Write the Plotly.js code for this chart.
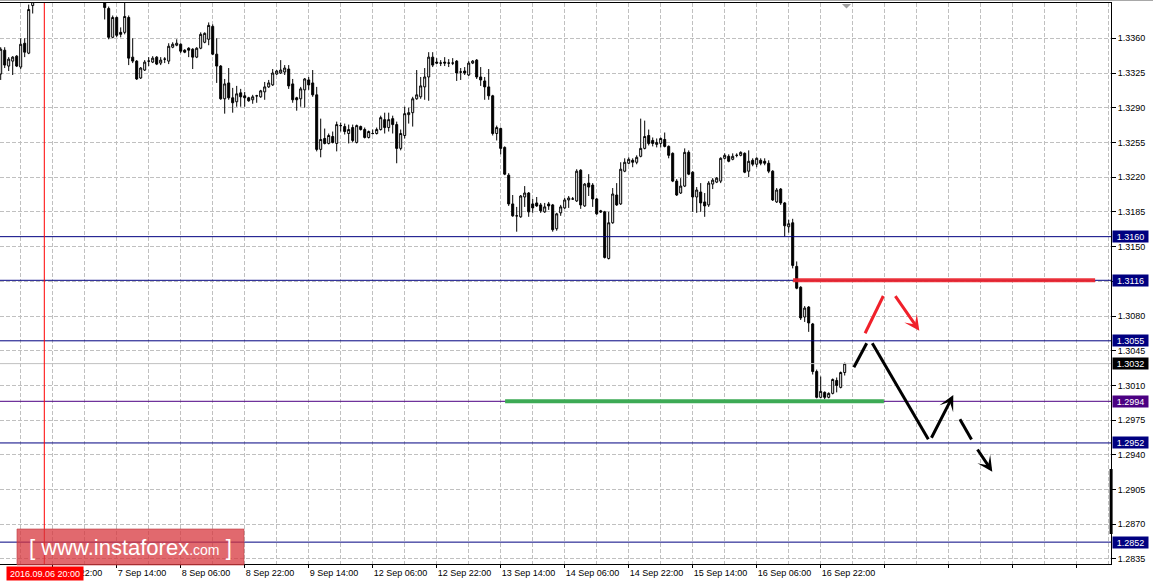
<!DOCTYPE html>
<html><head><meta charset="utf-8">
<script src="https://cdn.plot.ly/plotly-3.0.1.min.js"></script>
<style>html,body{margin:0;padding:0;background:#fff;overflow:hidden}#chart{width:1153px;height:581px;}</style>
</head><body><div id="chart"></div>
<script>
// GBP/USD H1 bars (null = bar above the visible price range)
const opens = [1.3324,1.3348,1.3332,1.3337,1.3342,1.3331,1.3355,1.3345,1.3393,
null,null,null,null,null,null,null,null,null,null,null,null,null,null,null,null,null,
1.3399,1.3390,1.3361,1.3381,1.3366,1.3366,1.3381,1.3341,1.3337,1.3320,1.3328,1.3337,1.3336,1.3341,1.3335,1.3339,1.3337,1.3351,1.3353,1.3354,
1.3348,1.3350,1.3349,1.3341,1.3350,1.3356,1.3359,1.3372,1.3344,1.3332,1.3299,1.3315,1.3300,1.3296,1.3305,1.3302,1.3300,1.3298,1.3302,1.3301,
1.3306,1.3311,1.3313,1.3324,1.3325,1.3326,1.3329,1.3314,1.3300,1.3299,1.3308,1.3318,1.3315,1.3303,1.3248,1.3259,1.3254,1.3261,1.3254,1.3272,
1.3271,1.3264,1.3270,1.3255,1.3271,1.3268,1.3260,1.3264,1.3264,1.3268,1.3278,1.3270,1.3279,1.3273,1.3249,1.3262,1.3283,1.3285,1.3299,1.3301,
1.3311,1.3321,1.3341,1.3336,1.3335,1.3336,1.3335,1.3335,1.3337,1.3326,1.3327,1.3323,1.3335,1.3338,1.3321,1.3317,1.3311,1.3302,1.3264,1.3269,
1.3250,1.3222,1.3193,1.3181,1.3180,1.3200,1.3204,1.3193,1.3194,1.3192,1.3185,1.3193,1.3192,1.3168,1.3184,1.3189,1.3197,1.3198,1.3196,1.3227,
1.3191,1.3214,1.3212,1.3198,1.3186,1.3185,1.3138,1.3174,1.3202,1.3193,1.3226,1.3234,1.3237,1.3235,1.3241,1.3249,1.3262,1.3257,1.3253,1.3254,
1.3258,1.3251,1.3244,1.3216,1.3204,1.3211,1.3245,1.3225,1.3200,1.3205,1.3195,1.3192,1.3213,1.3215,1.3216,1.3239,1.3241,1.3238,1.3242,1.3242,
1.3244,1.3226,1.3237,1.3233,1.3237,1.3236,1.3234,1.3226,1.3195,1.3208,1.3194,1.3170,1.3174,1.3130,1.3109,1.3079,1.3089,1.3072,1.3024,1.2998,
1.3003,1.2998,1.3002,1.3015,1.3008,1.3023];
const highs = [1.3351,1.3351,1.3341,1.3342,1.3343,1.3360,1.3360,1.3394,1.3402,
null,null,null,null,null,null,null,null,null,null,null,null,null,null,null,null,null,
1.3404,1.3392,1.3383,1.3382,1.3371,1.3396,1.3383,1.3360,1.3338,1.3331,1.3338,1.3341,1.3342,1.3342,1.3341,1.3341,1.3355,1.3356,1.3359,1.3355,
1.3349,1.3351,1.3350,1.3351,1.3366,1.3366,1.3376,1.3374,1.3360,1.3333,1.3319,1.3330,1.3310,1.3312,1.3309,1.3306,1.3301,1.3303,1.3303,1.3308,
1.3316,1.3318,1.3329,1.3328,1.3338,1.3333,1.3333,1.3319,1.3301,1.3311,1.3320,1.3321,1.3328,1.3311,1.3279,1.3269,1.3264,1.3266,1.3276,1.3275,
1.3274,1.3273,1.3273,1.3273,1.3272,1.3270,1.3267,1.3268,1.3270,1.3282,1.3285,1.3285,1.3282,1.3276,1.3268,1.3291,1.3290,1.3301,1.3328,1.3321,
1.3330,1.3346,1.3346,1.3340,1.3338,1.3341,1.3339,1.3340,1.3338,1.3330,1.3331,1.3337,1.3338,1.3339,1.3331,1.3321,1.3329,1.3303,1.3272,1.3270,
1.3251,1.3224,1.3202,1.3190,1.3202,1.3211,1.3205,1.3198,1.3200,1.3194,1.3194,1.3195,1.3193,1.3184,1.3192,1.3199,1.3201,1.3200,1.3228,1.3228,
1.3214,1.3223,1.3214,1.3199,1.3187,1.3186,1.3185,1.3209,1.3214,1.3235,1.3239,1.3240,1.3239,1.3242,1.3279,1.3277,1.3268,1.3260,1.3259,1.3260,
1.3265,1.3252,1.3245,1.3218,1.3219,1.3249,1.3247,1.3226,1.3210,1.3214,1.3204,1.3216,1.3219,1.3220,1.3240,1.3244,1.3243,1.3244,1.3244,1.3246,
1.3245,1.3247,1.3239,1.3240,1.3239,1.3239,1.3237,1.3227,1.3209,1.3209,1.3195,1.3177,1.3178,1.3135,1.3110,1.3090,1.3090,1.3073,1.3026,1.3019,
1.3004,1.3003,1.3017,1.3018,1.3024,1.3033];
const lows = [1.3318,1.3330,1.3327,1.3323,1.3331,1.3329,1.3341,1.3344,1.3385,
null,null,null,null,null,null,null,null,null,null,null,null,null,null,null,null,null,
1.3379,1.3359,1.3360,1.3361,1.3361,1.3364,1.3333,1.3335,1.3318,1.3319,1.3327,1.3332,1.3335,1.3333,1.3333,1.3335,1.3334,1.3350,1.3352,1.3345,
1.3345,1.3341,1.3329,1.3340,1.3349,1.3355,1.3353,1.3343,1.3315,1.3298,1.3284,1.3298,1.3285,1.3291,1.3291,1.3291,1.3296,1.3294,1.3295,1.3300,
1.3298,1.3310,1.3312,1.3323,1.3324,1.3323,1.3309,1.3295,1.3287,1.3291,1.3290,1.3308,1.3301,1.3246,1.3240,1.3253,1.3253,1.3254,1.3246,1.3266,
1.3263,1.3254,1.3255,1.3254,1.3267,1.3259,1.3259,1.3263,1.3263,1.3267,1.3264,1.3266,1.3264,1.3234,1.3247,1.3259,1.3274,1.3271,1.3298,1.3299,
1.3298,1.3297,1.3331,1.3334,1.3332,1.3332,1.3331,1.3333,1.3317,1.3318,1.3323,1.3322,1.3334,1.3319,1.3312,1.3298,1.3298,1.3262,1.3257,1.3243,
1.3222,1.3191,1.3180,1.3165,1.3179,1.3190,1.3180,1.3184,1.3190,1.3184,1.3184,1.3187,1.3165,1.3166,1.3181,1.3188,1.3189,1.3197,1.3195,1.3188,
1.3190,1.3201,1.3190,1.3182,1.3184,1.3138,1.3137,1.3173,1.3191,1.3192,1.3225,1.3233,1.3230,1.3233,1.3240,1.3248,1.3252,1.3251,1.3250,1.3250,
1.3250,1.3239,1.3215,1.3201,1.3203,1.3210,1.3222,1.3185,1.3184,1.3185,1.3180,1.3190,1.3208,1.3214,1.3214,1.3238,1.3235,1.3237,1.3240,1.3241,
1.3224,1.3220,1.3231,1.3230,1.3232,1.3232,1.3224,1.3196,1.3194,1.3192,1.3160,1.3164,1.3128,1.3107,1.3076,1.3074,1.3064,1.3021,1.2997,1.2997,
1.2996,1.2997,1.3001,1.3003,1.3007,1.3020];
const closes = [1.3349,1.3333,1.3339,1.3341,1.3332,1.3354,1.3346,1.3389,1.3397,
null,null,null,null,null,null,null,null,null,null,null,null,null,null,null,null,null,
1.3391,1.3361,1.3381,1.3363,1.3364,1.3382,1.3340,1.3337,1.3319,1.3330,1.3336,1.3337,1.3340,1.3334,1.3338,1.3339,1.3352,1.3354,1.3355,1.3347,
1.3346,1.3348,1.3341,1.3350,1.3364,1.3365,1.3373,1.3344,1.3332,1.3299,1.3314,1.3300,1.3295,1.3304,1.3301,1.3300,1.3297,1.3301,1.3302,1.3307,
1.3311,1.3315,1.3325,1.3327,1.3328,1.3330,1.3312,1.3298,1.3298,1.3309,1.3319,1.3313,1.3303,1.3248,1.3258,1.3254,1.3262,1.3255,1.3273,1.3272,
1.3266,1.3268,1.3257,1.3272,1.3268,1.3260,1.3266,1.3264,1.3268,1.3280,1.3270,1.3278,1.3273,1.3249,1.3264,1.3284,1.3285,1.3299,1.3303,1.3312,
1.3321,1.3341,1.3333,1.3335,1.3335,1.3335,1.3335,1.3335,1.3325,1.3326,1.3325,1.3335,1.3337,1.3321,1.3318,1.3311,1.3302,1.3264,1.3270,1.3249,
1.3223,1.3193,1.3181,1.3181,1.3201,1.3204,1.3185,1.3189,1.3191,1.3186,1.3190,1.3191,1.3167,1.3183,1.3190,1.3197,1.3199,1.3198,1.3226,1.3192,
1.3213,1.3210,1.3198,1.3183,1.3185,1.3139,1.3174,1.3203,1.3192,1.3228,1.3235,1.3238,1.3235,1.3240,1.3249,1.3261,1.3254,1.3254,1.3255,1.3259,
1.3251,1.3242,1.3216,1.3202,1.3211,1.3245,1.3223,1.3200,1.3207,1.3194,1.3191,1.3214,1.3217,1.3219,1.3239,1.3242,1.3236,1.3241,1.3242,1.3245,
1.3225,1.3236,1.3233,1.3239,1.3234,1.3234,1.3226,1.3197,1.3207,1.3194,1.3171,1.3173,1.3131,1.3108,1.3078,1.3088,1.3073,1.3024,1.2998,1.3004,
1.2998,1.3002,1.3016,1.3010,1.3023,1.3032];

// time axis labels (bar index -> label)
const tickIdx  = [13,29,45,61,77,93,109,125,141,157,173,189,205,221,237,253,269];
const tickText = ['6 Sep 22:00','7 Sep 14:00','8 Sep 06:00','8 Sep 22:00','9 Sep 14:00','12 Sep 06:00','12 Sep 22:00',
                  '13 Sep 14:00','14 Sep 06:00','14 Sep 22:00','15 Sep 14:00','16 Sep 06:00','16 Sep 22:00','','','',''];
const gridIdx  = [5,21,37,53,69,85,101,117,133,149,165,181,197,213,229,245,261,277];
// price axis
const priceTicks = [1.2835,1.2870,1.2905,1.2940,1.2975,1.3010,1.3045,1.3080,1.3115,1.3150,1.3185,1.3220,1.3255,1.3290,1.3325,1.3360];
// horizontal levels
const navyLevels = [1.3160,1.3116,1.3055,1.2952,1.2852];
const supportLevel = 1.2994;
const lastPrice = 1.3032;
const cursorTimeLabel = '2016.09.06 20:00';

const barIndex = opens.map((_, i) => i);

const trace = {
  type: 'candlestick', x: barIndex, open: opens, high: highs, low: lows, close: closes,
  increasing: {line: {color: '#000', width: 1}, fillcolor: '#fff'},
  decreasing: {line: {color: '#000', width: 1}, fillcolor: '#000'},
  whiskerwidth: 0, hoverinfo: 'skip', showlegend: false
};

const FONT = 'Liberation Sans, Arial, sans-serif';
const navy = '#000080', purple = '#4B0082';
const shapes = [];
const annotations = [];
// top window line
shapes.push({type:'line', xref:'paper', yref:'paper', x0:0, x1:1.04, y0:1.0046, y1:1.0046, line:{color:'#A0A0A0', width:1}});
// horizontal level lines
navyLevels.forEach(v => shapes.push({type:'line', xref:'paper', x0:0, x1:1, yref:'y', y0:v, y1:v, line:{color:navy, width:1}}));
shapes.push({type:'line', xref:'paper', x0:0, x1:1, yref:'y', y0:supportLevel, y1:supportLevel, line:{color:purple, width:1}});
shapes.push({type:'line', xref:'paper', x0:0, x1:1, yref:'y', y0:lastPrice, y1:lastPrice, line:{color:'#C0C0C0', width:1}});
// red cursor vertical line
shapes.push({type:'line', xref:'x', x0:10.9, x1:10.9, yref:'paper', y0:0, y1:1, line:{color:'#FF0000', width:1}});
// thick resistance / support drawings
shapes.push({type:'line', xref:'x', yref:'y', x0:198.1, x1:273.6, y0:1.3116, y1:1.3116, line:{color:'rgba(235,35,45,0.92)', width:4}});
shapes.push({type:'line', xref:'x', yref:'y', x0:126.1, x1:220.8, y0:supportLevel, y1:supportLevel, line:{color:'#3DAA55', width:4}});
// scenario lines
shapes.push({type:'line', xref:'x', yref:'y', x0:216.1, y0:1.30626, x1:220.65, y1:1.31002, line:{color:'#F0202A', width:3}});
shapes.push({type:'line', xref:'x', yref:'y', x0:213.3, y0:1.30283, x1:216.5, y1:1.30525, line:{color:'#000', width:3}});
shapes.push({type:'line', xref:'x', yref:'y', x0:217.9, y0:1.30525, x1:231.9, y1:1.29557, line:{color:'#000', width:3}});
shapes.push({type:'line', xref:'x', yref:'y', x0:239.8, y0:1.29759, x1:242.7, y1:1.29555, line:{color:'#000', width:3}});
// scroll marker on price scale
shapes.push({type:'line', xref:'paper', yref:'paper', x0:1.0001, x1:1.0001, y0:0.0535, y1:0.1693, line:{color:'#000', width:3}});
// shift triangle
shapes.push({type:'path', xref:'x', yref:'paper', path:'M 210.3 0.9982 L 212.6 0.9982 L 211.45 0.990 Z', fillcolor:'#A0A0A0', line:{width:0}});
// watermark box
shapes.push({type:'rect', xref:'paper', yref:'paper', x0:0.0153, x1:0.2196, y0:-0.0018, y1:0.0624,
  fillcolor:'rgba(214,52,60,0.74)', line:{color:'rgba(190,60,65,0.6)', width:1}});

function arrow(x0, y0, x1, y1, color) {
  return {xref:'x', yref:'y', axref:'x', ayref:'y', x:x1, y:y1, ax:x0, ay:y0, text:'', showarrow:true,
    arrowhead:3, arrowsize:0.85, arrowwidth:3, arrowcolor:color, standoff:0, startstandoff:0};
}
annotations.push(arrow(223.4, 1.31015, 229.65, 1.30652, '#F0202A'));
annotations.push(arrow(232.5, 1.29557, 238.15, 1.30003, '#000'));
annotations.push(arrow(243.95, 1.29469, 247.9, 1.2923, '#000'));

function priceBox(v, bg) {
  return {xref:'paper', x:1, xanchor:'left', xshift:1, yref:'y', y:v, yanchor:'middle', text:v.toFixed(4),
    showarrow:false, bgcolor:bg, font:{color:'#fff', size:9, family:FONT},
    width:35, height:11, borderpad:0, align:'center'};
}
navyLevels.forEach(v => annotations.push(priceBox(v, navy)));
annotations.push(priceBox(supportLevel, purple));
annotations.push(priceBox(lastPrice, '#000'));

annotations.push({xref:'paper', yref:'paper', x:0.0405, y:-0.0178, text:cursorTimeLabel, showarrow:false,
  bgcolor:'#FF0000', font:{color:'#fff', size:9, family:FONT},
  width:76, height:13, borderpad:0, xanchor:'center', yanchor:'middle'});
annotations.push({xref:'paper', yref:'paper', x:0.1175, y:0.0303, xanchor:'center', yanchor:'middle',
  text:'[ www.instaforex<span style="font-size:14px">.com</span> ]', showarrow:false,
  font:{color:'#fff', size:22, family:FONT}});

const grid = {color:'#C0C0C0', dash:'4px,2px'};
const layout = {
  width:1153, height:581,
  margin:{l:0, r:42, t:3, b:17, pad:0},
  paper_bgcolor:'#fff', plot_bgcolor:'#fff', showlegend:false, hovermode:false,
  boxgap:0.5, boxgroupgap:0,
  font:{family:FONT, size:9, color:'#000'},
  xaxis:{range:[-0.175, 277.575], autorange:false, rangeslider:{visible:false}, type:'linear',
    tickmode:'array', tickvals:tickIdx, ticktext:tickText, ticks:'outside', ticklen:3, tickcolor:'#000',
    ticklabelposition:'outside right', tickfont:{size:9},
    showgrid:true, gridcolor:grid.color, griddash:grid.dash, gridwidth:1,
    minor:{tickmode:'array', tickvals:gridIdx, showgrid:true, gridcolor:grid.color, griddash:grid.dash, ticklen:0},
    showline:true, linecolor:'#000', linewidth:1, mirror:true, zeroline:false, automargin:false},
  yaxis:{side:'right', range:[1.282995, 1.339559], autorange:false,
    tickmode:'array', tickvals:priceTicks, ticktext:priceTicks.map(v => v.toFixed(4)),
    ticks:'outside', ticklen:4, tickcolor:'#000', tickfont:{size:9},
    showgrid:true, gridcolor:grid.color, griddash:grid.dash, gridwidth:1,
    showline:true, linecolor:'#000', linewidth:1, zeroline:false, automargin:false},
  shapes:shapes, annotations:annotations
};
Plotly.newPlot('chart', [trace], layout, {displayModeBar:false, staticPlot:true});
</script>
</body></html>
